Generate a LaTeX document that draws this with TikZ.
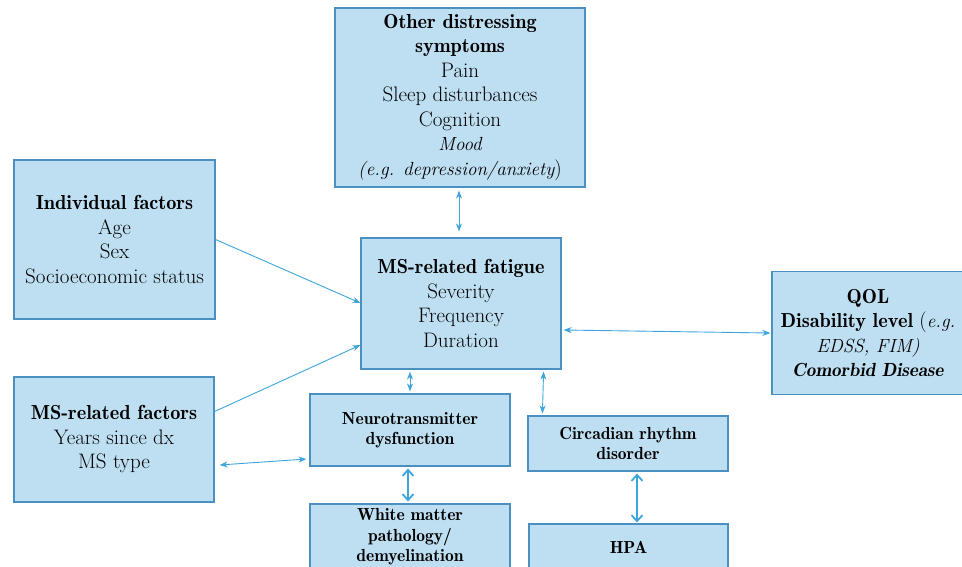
\documentclass[tikz,border=0pt]{standalone}
\usetikzlibrary{arrows.meta,calc}
\definecolor{boxfill}{HTML}{BEDFF2}
\definecolor{boxline}{HTML}{4A90C0}
\definecolor{arrcol}{HTML}{3DA5DC}
\newcommand{\myb}[1]{{\fontsize{20.3}{24.5}\fontseries{b}\selectfont #1}}
\newcommand{\myi}[1]{{\fontsize{19}{24.5}\selectfont\itshape #1}}
\newcommand{\mybi}[1]{{\fontsize{19}{24.5}\fontseries{b}\fontshape{it}\selectfont #1}}
\tikzset{
  bigbox/.style={draw=boxline,fill=boxfill,line width=1.2pt,align=center,inner sep=0pt,
    font=\rmfamily\fontsize{21}{24.5}\selectfont},
  smallbox/.style={draw=boxline,fill=boxfill,line width=1.2pt,align=center,inner sep=0pt,
    font=\rmfamily\fontsize{17.5}{20.5}\fontseries{b}\selectfont},
  arr/.style={draw=arrcol,line width=0.9pt,-{Stealth[length=8pt,width=6pt]}},
  darr/.style={draw=arrcol,line width=0.9pt,{Stealth[length=8pt,width=6pt]}-{Stealth[length=8pt,width=6pt]}},
  thickarr/.style={draw=arrcol,line width=1.8pt,{Straight Barb[length=6pt,width=11pt]}-{Straight Barb[length=6pt,width=11pt]}},
}
\begin{document}
\begin{tikzpicture}[x=1pt,y=-1pt]
\useasboundingbox (0,0) rectangle (962,566);
\clip (0,0) rectangle (962,566);
\fill[white] (0,0) rectangle (962,566);

\node[bigbox,minimum width=250pt,minimum height=179pt] (other) at (460,97.5)
  {\myb{Other distressing}\\\myb{symptoms}\\Pain\\Sleep disturbances\\Cognition\\\myi{Mood}\\\myi{(e.g. depression/anxiety})};
\node[bigbox,minimum width=200pt,minimum height=131pt] (fatigue) at (461,303.5)
  {\myb{MS-related fatigue}\\Severity\\Frequency\\Duration};
\node[bigbox,minimum width=201pt,minimum height=159pt] (indiv) at (114.5,239.5)
  {\myb{Individual factors}\\Age\\Sex\\Socioeconomic status};
\node[bigbox,minimum width=200pt,minimum height=125pt] (msf) at (114,439.5)
  {\myb{MS-related factors}\\Years since dx\\MS type};
\node[bigbox,minimum width=192pt,minimum height=123pt] (qol) at (868,333)
  {\myb{QOL}\\\myb{Disability level} (\myi{e.g.}\\\myi{EDSS, FIM)}\\\mybi{Comorbid Disease}};
\node[smallbox,minimum width=200pt,minimum height=72pt] (neuro) at (410,430)
  {Neurotransmitter\\dysfunction};
\node[smallbox,minimum width=200pt,minimum height=55pt] (circ) at (628,443.5)
  {Circadian rhythm\\disorder};
\node[smallbox,minimum width=200pt,minimum height=66pt] (white) at (410,537)
  {White matter\\pathology/\\demyelination};
\node[smallbox,minimum width=199pt,minimum height=46pt] (hpa) at (628.5,547)
  {HPA};

\draw[darr] ($(other.south)+(-1,3)$) -- ($(fatigue.north)+(-2,-6)$);
\draw[arr] (indiv.east) -- ($(fatigue.west)+(0,-0.5)$);
\draw[arr] ($(msf.east)+(0,-28)$) -- ($(fatigue.west)+(0,41.5)$);
\draw[darr] ($(msf.east)+(5,25.5)$) -- ($(neuro.west)+(-3,29)$);
\draw[darr] ($(fatigue.south)+(-51,2)$) -- ($(neuro.north)+(0,-2)$);
\draw[darr] ($(fatigue.south east)+(-18,2)$) -- ($(circ.north west)+(15,-2)$);
\draw[darr] ($(fatigue.east)+(2,26.5)$) -- ($(qol.west)+(-1,0)$);
\draw[thickarr] ($(neuro.south)+(-2,2)$) -- ($(white.north)+(-2,-2)$);
\draw[thickarr] ($(circ.south)+(9,2)$) -- ($(hpa.north)+(8.5,-1)$);
\end{tikzpicture}
\end{document}
